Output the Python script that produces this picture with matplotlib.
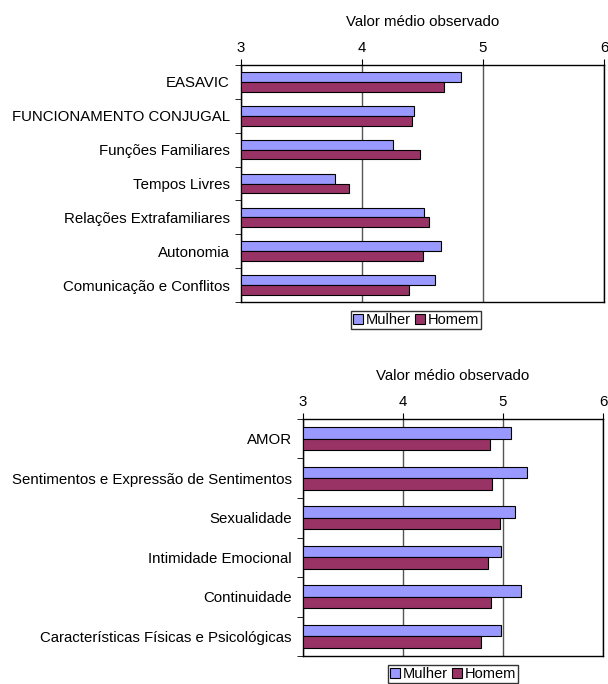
import matplotlib.pyplot as plt
import numpy as np

plt.rcParams['font.family'] = ['Liberation Sans', 'DejaVu Sans']

# dados - gráfico de cima
cats_1 = ["EASAVIC", "FUNCIONAMENTO CONJUGAL", "Funções Familiares", "Tempos Livres",
          "Relações Extrafamiliares", "Autonomia", "Comunicação e Conflitos"]
mulher_1 = [4.82, 4.43, 4.26, 3.78, 4.51, 4.65, 4.60]
homem_1 = [4.68, 4.41, 4.48, 3.89, 4.55, 4.50, 4.39]

# dados - gráfico de baixo
cats_2 = ["AMOR", "Sentimentos e Expressão de Sentimentos", "Sexualidade",
          "Intimidade Emocional", "Continuidade", "Características Físicas e Psicológicas"]
mulher_2 = [5.08, 5.24, 5.12, 4.98, 5.18, 4.98]
homem_2 = [4.87, 4.89, 4.97, 4.85, 4.88, 4.78]

cor_m = "#9999FF"
cor_h = "#993366"
fs = 10.8


def desenha(ax, cats, mulher, homem, leg_x):
    y = np.arange(len(cats))
    h = 0.29
    ax.barh(y - h / 2, np.array(mulher) - 3, left=3, height=h, color=cor_m,
            edgecolor="black", linewidth=0.8, label="Mulher", zorder=3)
    ax.barh(y + h / 2, np.array(homem) - 3, left=3, height=h, color=cor_h,
            edgecolor="black", linewidth=0.8, label="Homem", zorder=3)
    ax.set_xlim(3, 6)
    ax.set_ylim(len(cats) - 0.5, -0.5)
    ax.set_xticks([3, 4, 5, 6])
    ax.xaxis.tick_top()
    ax.xaxis.set_label_position("top")
    ax.set_xlabel("Valor médio observado", fontsize=fs, labelpad=11)
    ax.set_yticks(y)
    ax.set_yticklabels(cats, fontsize=fs)
    ax.set_yticks(np.arange(len(cats) + 1) - 0.5, minor=True)
    ax.tick_params(axis="y", which="major", length=0, pad=8)
    ax.tick_params(axis="y", which="minor", length=4, direction="out")
    ax.tick_params(axis="x", labelsize=fs, length=4, direction="out", pad=3)
    ax.grid(axis="x", color="#555555", linewidth=1.0, zorder=0)
    for s in ax.spines.values():
        s.set_color("black")
        s.set_linewidth(1.0)
    ax.legend(loc="upper center", bbox_to_anchor=(leg_x, -0.02), ncol=2, fontsize=10.5,
              frameon=True, fancybox=False, edgecolor="black", handlelength=0.7,
              handleheight=0.7, handletextpad=0.15, columnspacing=0.3,
              borderpad=0.15, borderaxespad=0.3)


fig = plt.figure(figsize=(6.08, 6.84), dpi=100)
W, H = 608, 684
ax1 = fig.add_axes([241 / W, 1 - 302 / H, (604 - 241) / W, (302 - 65) / H])
ax2 = fig.add_axes([303 / W, 1 - 656 / H, (603 - 303) / W, (656 - 419) / H])

desenha(ax1, cats_1, mulher_1, homem_1, 0.482)
desenha(ax2, cats_2, mulher_2, homem_2, 0.5)

fig.savefig("out.png", dpi=100)
